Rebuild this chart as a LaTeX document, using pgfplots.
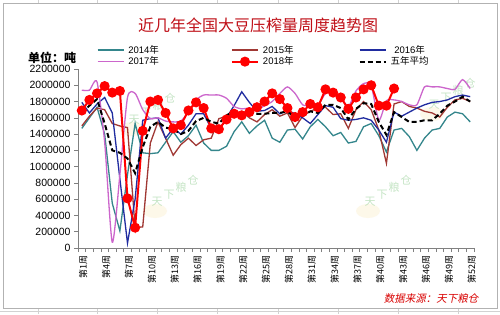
\documentclass[border=0pt]{standalone}
\usepackage{fontspec}
\setmainfont{Liberation Sans}
\newfontfamily\cjk{Noto Sans CJK SC}
\newfontfamily\cjkit[FakeSlant=0.2]{Noto Sans CJK SC}
\usepackage{pgfplots}
\usepackage{pgfplotstable}
\pgfplotsset{compat=1.18}
\definecolor{c14}{RGB}{52,134,140}
\definecolor{c15}{RGB}{160,56,52}
\definecolor{c16}{RGB}{32,44,160}
\definecolor{c17}{RGB}{204,102,204}
\definecolor{titlered}{RGB}{192,16,24}
\definecolor{axgray}{RGB}{128,128,128}
\definecolor{wm}{RGB}{160,212,160}
\definecolor{wmy}{RGB}{250,238,200}

\pgfplotstableread{
w y14 y15 y16 y17 avg
1 1470000 1500000 1790000 1940000 1660000
2 1600000 1620000 1660000 1940000 1750000
3 1730000 1720000 1770000 2040000 1830000
4 1400000 1700000 1850000 1300000 1530000
5 550000 1530000 1660000 70000 1200000
6 210000 1500000 850000 900000 1170000
7 900000 1480000 60000 1850000 1100000
8 1530000 250000 600000 1900000 920000
9 1170000 260000 1570000 1700000 1240000
10 1160000 1290000 1590000 1590000 1490000
11 1170000 1550000 1600000 1600000 1550000
12 1300000 1350000 1350000 1560000 1480000
13 1430000 1140000 1470000 1550000 1460000
14 1300000 1270000 1400000 1560000 1400000
15 1380000 1350000 1510000 1670000 1440000
16 1510000 1260000 1650000 1820000 1560000
17 1290000 1330000 1650000 1880000 1600000
18 1200000 1350000 1470000 1880000 1550000
19 1200000 1590000 1440000 1880000 1530000
20 1250000 1620000 1600000 1840000 1630000
21 1430000 1650000 1750000 1740000 1680000
22 1550000 1680000 1920000 1710000 1660000
23 1410000 1600000 1790000 1720000 1670000
24 1500000 1550000 1680000 1700000 1650000
25 1570000 1640000 1690000 1750000 1650000
26 1350000 1700000 1740000 1800000 1660000
27 1300000 1620000 1650000 1900000 1660000
28 1450000 1660000 1690000 1980000 1680000
29 1460000 1480000 1650000 1900000 1600000
30 1340000 1620000 1600000 1760000 1620000
31 1490000 1680000 1530000 1750000 1680000
32 1580000 1720000 1640000 1750000 1660000
33 1490000 1730000 1750000 1900000 1760000
34 1380000 1640000 1730000 1900000 1760000
35 1420000 1650000 1590000 1850000 1720000
36 1290000 1470000 1570000 1740000 1580000
37 1310000 1700000 1580000 1930000 1710000
38 1490000 1800000 1600000 2020000 1780000
39 1530000 1700000 1570000 2000000 1770000
40 1380000 1450000 1450000 1570000 1550000
41 1180000 1040000 1300000 1810000 1390000
42 1450000 1770000 1670000 1820000 1670000
43 1470000 1800000 1620000 1800000 1610000
44 1370000 1740000 1670000 1760000 1550000
45 1200000 1720000 1720000 1760000 1550000
46 1350000 1680000 1760000 1980000 1570000
47 1450000 1660000 1790000 1980000 1570000
48 1470000 1610000 1800000 1980000 1650000
49 1610000 1730000 1820000 1960000 1750000
50 1670000 1820000 1860000 1950000 1800000
51 1650000 1840000 1880000 2070000 1860000
52 1550000 1800000 1860000 1960000 1800000
}\weekly

\pgfplotstableread{
w y18
1 1690000
2 1820000
3 1900000
4 1990000
5 1910000
6 1930000
7 610000
8 250000
9 1440000
10 1800000
11 1820000
12 1660000
13 1470000
14 1510000
15 1690000
16 1790000
17 1720000
18 1470000
19 1460000
20 1580000
21 1650000
22 1630000
23 1670000
24 1730000
25 1800000
26 1900000
27 1830000
28 1720000
29 1610000
30 1670000
31 1770000
32 1730000
33 1950000
34 1910000
35 1850000
36 1710000
37 1850000
38 1950000
39 2000000
40 1750000
41 1750000
42 1960000
}\yeartwo

\newcommand\wmark[2]{%
  \fill[wmy, opacity=0.4] (#1-20,#2-20) ellipse (12 and 7);
  \foreach \c [count=\i] in {天,下,粮,仓}{
    \node[text=wm, opacity=0.6, inner sep=0pt, font=\cjk\fontsize{11}{11}\selectfont]
      at ({#1+(\i-2.5)*12},{#2+(\i-2.5)*7}) {\c};
  }%
}

\begin{document}
\begin{tikzpicture}[x=1pt,y=1pt]
\path[use as bounding box, fill=white] (0,0) rectangle (500,314);
% spreadsheet grid remnants
\foreach \gx in {38,97,157,217,278,338,398,458}{
  \draw[gray!35] (\gx,0) -- (\gx,6);
  \draw[gray!35] (\gx,311) -- (\gx,314);
}
\draw[gray!35] (0,3) -- (500,3);
\draw[gray!60] (3,6) rectangle (497,311);
% watermarks
\wmark{152}{205}
\wmark{175}{123}
\wmark{388}{123}
\wmark{452}{220}

\begin{axis}[
  at={(78pt,66pt)}, anchor=south west,
  scale only axis, width=396pt, height=179pt,
  xmin=0.5, xmax=52.5, ymin=0, ymax=2200000,
  axis x line*=bottom, axis y line*=left,
  axis line style={-, draw=axgray, line width=0.8pt},
  tick align=outside,
  major tick length=4pt, minor tick length=4pt,
  ytick={0,200000,...,2200000},
  scaled y ticks=false,
  yticklabel style={font=\fontsize{10.5}{10.5}\selectfont,
    /pgf/number format/fixed, /pgf/number format/1000 sep={},
    /pgf/number format/assume math mode=true},
  ytick style={draw=axgray, line width=0.6pt},
  xtick={1,4,...,52},
  xticklabels={第1周,第4周,第7周,第10周,第13周,第16周,第19周,第22周,第25周,第28周,第31周,第34周,第37周,第40周,第43周,第46周,第49周,第52周},
  xticklabel style={font=\cjk\fontsize{9}{9}\selectfont, rotate=90, anchor=east, yshift=-1.5pt},
  xtick style={draw=none},
  minor xtick={0.5,1.5,...,52.5},
  minor x tick style={draw=axgray, line width=0.6pt},
  clip=false,
  legend columns=3,
  legend style={at={(0.040,1.15)}, anchor=north west, draw=none, fill=none,
    font=\fontsize{9.5}{9.5}\selectfont, nodes={inner sep=1pt}, row sep=0pt,
    column sep=3pt,
    /tikz/column 2/.style={column sep=71pt},
    /tikz/column 4/.style={column sep=64pt}},
  legend image code/.code={\draw[mark repeat=2,mark phase=2,#1] plot coordinates {(0pt,0pt) (13pt,0pt) (26pt,0pt)};},
]
\addplot[c14, line width=1.3pt] table[x=w,y=y14] {\weekly};
\addlegendentry{2014{\cjk 年}}
\addplot[c15, line width=1.3pt] table[x=w,y=y15] {\weekly};
\addlegendentry{2015{\cjk 年}}
\addplot[c16, line width=1.3pt] table[x=w,y=y16] {\weekly};
\addlegendentry{2016{\cjk 年}}
\addplot[c17, line width=1.3pt, smooth, tension=0.4] table[x=w,y=y17] {\weekly};
\addlegendentry{2017{\cjk 年}}
\addplot[red, line width=2pt, mark=*, mark size=4pt, mark options={fill=red, draw=red, solid}] table[x=w,y=y18] {\yeartwo};
\addlegendentry{2018{\cjk 年}}
\addplot[black, line width=2pt, dash pattern=on 5pt off 3pt] table[x=w,y=avg] {\weekly};
\addlegendentry{{\cjk 五年平均}}
\end{axis}

\node[font=\cjk\fontsize{16}{16}\selectfont, text=titlered] at (258,289) {近几年全国大豆压榨量周度趋势图};
\node[font=\cjk\bfseries\fontsize{12}{12}\selectfont] at (52,256) {单位：吨};
\node[font=\cjkit\fontsize{10.5}{10.5}\selectfont, text=red!85!black, anchor=east] at (482,16) {数据来源：天下粮仓};
\end{tikzpicture}
\end{document}
